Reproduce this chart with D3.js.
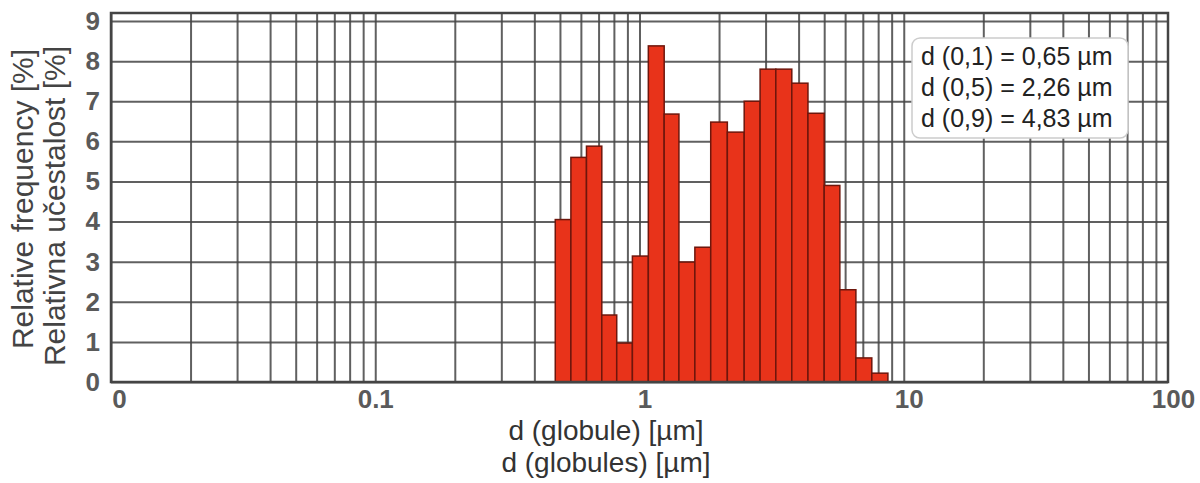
<!DOCTYPE html>
<html>
<head>
<meta charset="utf-8">
<script src="https://cdn.jsdelivr.net/npm/d3@7"></script>
<style>
  body { margin: 0; background: #fff; }
  text { font-family: "Liberation Sans", Arial, sans-serif; }
</style>
</head>
<body>
<script>
// data
var binEdges = [0.40, 0.48, 0.55, 0.63, 0.72, 0.82, 0.94, 1.08, 1.24, 1.41, 1.62, 1.86,
                2.15, 2.49, 2.86, 3.28, 3.77, 4.34, 5.0, 5.73, 6.59, 7.57, 8.71];
var freqValues = [0, 4.05, 5.6, 5.88, 1.67, 0.97, 3.14, 8.38, 6.68, 2.99, 3.36,
                  6.48, 6.23, 7.0, 7.8, 7.8, 7.45, 6.7, 4.9, 2.3, 0.6, 0.22];
var xTicks = [0.01, 0.1, 1, 10, 100];
var xTickLabels = ["0", "0.1", "1", "10", "100"];
var yTicks = [0, 1, 2, 3, 4, 5, 6, 7, 8, 9];
var statLines = ["d (0,1) = 0,65 \u00b5m", "d (0,5) = 2,26 \u00b5m", "d (0,9) = 4,83 \u00b5m"];
var yTitles = ["Relative frequency [%]", "Relativna u\u010destalost [%]"];
var xTitles = ["d (globule) [\u00b5m]", "d (globules) [\u00b5m]"];

var W = 1200, H = 483;
var pLeft = 111, pRight = 1168, pTop = 13, pBottom = 382;

var svg = d3.select("body").append("svg")
  .attr("width", W)
  .attr("height", H)

var x = d3.scaleLog().domain([0.01, 100]).range([pLeft, pRight]);
var y = d3.scaleLinear().domain([0, 9.2]).range([pBottom, pTop]);

// minor grid values 1..9 per decade
var gridX = [];
[0.01, 0.1, 1, 10].forEach(function(dec){
  for (var k = 1; k < 10; k++) gridX.push(dec * k);
});

// vertical grid
svg.append("g")
  .attr("transform", "translate(0," + pBottom + ")")
  .call(d3.axisBottom(x).tickValues(gridX).tickSize(-(pBottom - pTop)).tickFormat(""))
  .call(function(g){
    g.select(".domain").remove();
    g.selectAll("line").attr("stroke", "#444").attr("stroke-width", 2).attr("opacity", 0.85);
  });

// horizontal grid
svg.append("g")
  .attr("transform", "translate(" + pLeft + ",0)")
  .call(d3.axisLeft(y).tickValues(yTicks).tickSize(-(pRight - pLeft)).tickFormat(""))
  .call(function(g){
    g.select(".domain").remove();
    g.selectAll("line").attr("stroke", "#444").attr("stroke-width", 2).attr("opacity", 0.85);
  });

// bars
var bins = freqValues.map(function(v, i){
  return {x0: binEdges[i], x1: binEdges[i + 1], v: v};
});
svg.selectAll("rect.bar")
  .data(bins)
  .join("rect")
  .attr("class", "bar")
  .attr("x", function(d){ return x(d.x0); })
  .attr("width", function(d){ return x(d.x1) - x(d.x0); })
  .attr("y", function(d){ return y(d.v); })
  .attr("height", function(d){ return pBottom - y(d.v); })
  .attr("fill", "#e8331a")
  .attr("stroke", "#6e160c")
  .attr("stroke-width", 1.5);

// frame
svg.append("rect")
  .attr("x", pLeft).attr("y", pTop)
  .attr("width", pRight - pLeft).attr("height", pBottom - pTop)
  .attr("fill", "none")
  .attr("stroke", "#444")
  .attr("stroke-width", 2.5);

// tick labels
svg.append("g")
  .attr("transform", "translate(0," + pBottom + ")")
  .call(d3.axisBottom(x).tickValues(xTicks).tickSize(0).tickPadding(8)
    .tickFormat(function(d, i){ return xTickLabels[i]; }))
  .call(function(g){
    g.select(".domain").remove();
    g.selectAll("text")
      .attr("font-size", 26)
      .attr("fill", "#5a5a5a")
      .attr("font-weight", "bold")
      .attr("dx", function(d){ return d === 0.01 ? 8 : (d === 0.1 ? 0 : 5); });
  });

svg.append("g")
  .attr("transform", "translate(" + pLeft + ",0)")
  .call(d3.axisLeft(y).tickValues(yTicks).tickSize(0).tickPadding(11))
  .call(function(g){
    g.select(".domain").remove();
    g.selectAll("text")
      .attr("font-size", 26)
      .attr("fill", "#5a5a5a")
      .attr("font-weight", "bold");
  });

// axis titles
svg.selectAll("text.ytitle")
  .data(yTitles)
  .join("text")
  .attr("class", "ytitle")
  .attr("transform", function(d, i){ return "translate(" + (33 + i * 32) + "," + (199 + i * 7) + ") rotate(-90)"; })
  .attr("text-anchor", "middle")
  .attr("font-size", 30)
  .attr("fill", "#444")
  .text(function(d){ return d; });

svg.selectAll("text.xtitle")
  .data(xTitles)
  .join("text")
  .attr("class", "xtitle")
  .attr("x", 606)
  .attr("y", function(d, i){ return 440 + i * 32; })
  .attr("text-anchor", "middle")
  .attr("font-size", 28)
  .attr("fill", "#333")
  .text(function(d){ return d; });

// stats box
svg.append("rect")
  .attr("x", 912).attr("y", 38)
  .attr("width", 216).attr("height", 100)
  .attr("rx", 8)
  .attr("fill", "#fff")
  .attr("stroke", "#ccc")
  .attr("stroke-width", 1.5);

svg.selectAll("text.stat")
  .data(statLines)
  .join("text")
  .attr("class", "stat")
  .attr("x", 921)
  .attr("y", function(d, i){ return 65 + i * 31; })
  .attr("font-size", 25)
  .attr("fill", "#222")
  .text(function(d){ return d; });
</script>
</body>
</html>
